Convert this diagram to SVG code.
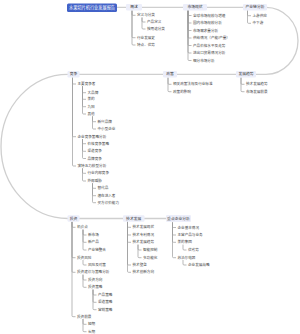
<svg xmlns="http://www.w3.org/2000/svg" width="300" height="334" viewBox="0 0 300 334">
<style>
.main{fill:none;stroke:#cfcfcf;stroke-width:1.3}
.br{fill:none;stroke:#9c9c9c;stroke-width:0.7}
.nb{fill:#eceefa;stroke:none}
.nt{font-family:'Liberation Sans','Noto Sans CJK SC',sans-serif;font-size:3.8px;fill:#333;text-anchor:middle;dominant-baseline:central}
.t{font-family:'Liberation Sans','Noto Sans CJK SC',sans-serif;font-size:3.6px;fill:#444;dominant-baseline:central}
.rt{font-family:'Liberation Sans','Noto Sans CJK SC',sans-serif;font-size:4.2px;fill:#fff;text-anchor:middle;dominant-baseline:central}
</style>
<rect width="300" height="334" fill="#fff"/>
<g id="connectors">
<path class="main" d="M117 7.3 H266 A32 33.5 0 0 1 266 74.3 H68 A67 72.1 0 0 0 68 218.5 H166"/>
<path class="br" d="M132 10.4 V14.3 Q132 15.3 133 15.3 H135.5 M132 10.4 V36.7 Q132 37.7 133 37.7 H135.5 M132 10.4 V44 Q132 45 133 45 H135.5"/>
<path class="br" d="M142 17.5 V21 Q142 22 143 22 H145.5 M142 17.5 V28 Q142 29 143 29 H145.5"/>
<path class="br" d="M188 10.4 V14.5 Q188 15.5 189 15.5 H191.5 M188 10.4 V22 Q188 23 189 23 H191.5 M188 10.4 V29.5 Q188 30.5 189 30.5 H191.5 M188 10.4 V37 Q188 38 189 38 H191.5 M188 10.4 V44.5 Q188 45.5 189 45.5 H191.5 M188 10.4 V52 Q188 53 189 53 H191.5 M188 10.4 V59.5 Q188 60.5 189 60.5 H191.5"/>
<path class="br" d="M247.5 10.4 V14.7 Q247.5 15.7 248.5 15.7 H251 M247.5 10.4 V22.3 Q247.5 23.3 248.5 23.3 H251"/>
<path class="br" d="M241 77.5 V83.3 Q241 84.3 242 84.3 H244.5 M241 77.5 V90.7 Q241 91.7 242 91.7 H244.5"/>
<path class="br" d="M168 77.5 V83.3 Q168 84.3 169 84.3 H171.5 M168 77.5 V90.7 Q168 91.7 169 91.7 H171.5"/>
<path class="br" d="M72.5 77.5 V83 Q72.5 84 73.5 84 H76 M72.5 77.5 V135.7 Q72.5 136.7 73.5 136.7 H76 M72.5 77.5 V165 Q72.5 166 73.5 166 H76"/>
<path class="br" d="M82.5 86.3 V91.7 Q82.5 92.7 83.5 92.7 H86 M82.5 86.3 V98.3 Q82.5 99.3 83.5 99.3 H86 M82.5 86.3 V105.7 Q82.5 106.7 83.5 106.7 H86 M82.5 86.3 V113 Q82.5 114 83.5 114 H86"/>
<path class="br" d="M92.5 116.3 V120.7 Q92.5 121.7 93.5 121.7 H96 M92.5 116.3 V128 Q92.5 129 93.5 129 H96"/>
<path class="br" d="M82.5 139 V142.7 Q82.5 143.7 83.5 143.7 H86 M82.5 139 V150.3 Q82.5 151.3 83.5 151.3 H86 M82.5 139 V157.5 Q82.5 158.5 83.5 158.5 H86"/>
<path class="br" d="M82.5 168.3 V172.3 Q82.5 173.3 83.5 173.3 H86 M82.5 168.3 V180 Q82.5 181 83.5 181 H86"/>
<path class="br" d="M92.5 183.3 V187.3 Q92.5 188.3 93.5 188.3 H96 M92.5 183.3 V194.7 Q92.5 195.7 93.5 195.7 H96 M92.5 183.3 V201.7 Q92.5 202.7 93.5 202.7 H96"/>
<path class="br" d="M72 221.7 V226.3 Q72 227.3 73 227.3 H75.5 M72 221.7 V256.7 Q72 257.7 73 257.7 H75.5 M72 221.7 V271.3 Q72 272.3 73 272.3 H75.5 M72 221.7 V315.7 Q72 316.7 73 316.7 H75.5"/>
<path class="br" d="M83 229.6 V234 Q83 235 84 235 H86.5 M83 229.6 V241.3 Q83 242.3 84 242.3 H86.5 M83 229.6 V249 Q83 250 84 250 H86.5"/>
<path class="br" d="M83 260 V264 Q83 265 84 265 H86.5"/>
<path class="br" d="M83 274.6 V279 Q83 280 84 280 H86.5 M83 274.6 V286.3 Q83 287.3 84 287.3 H86.5"/>
<path class="br" d="M93 289.6 V294 Q93 295 94 295 H96.5 M93 289.6 V301.3 Q93 302.3 94 302.3 H96.5 M93 289.6 V308.7 Q93 309.7 94 309.7 H96.5"/>
<path class="br" d="M83 319 V323.3 Q83 324.3 84 324.3 H86.5 M83 319 V330.7 Q83 331.7 84 331.7 H86.5"/>
<path class="br" d="M127.5 221.7 V226.3 Q127.5 227.3 128.5 227.3 H131 M127.5 221.7 V234 Q127.5 235 128.5 235 H131 M127.5 221.7 V241.3 Q127.5 242.3 128.5 242.3 H131 M127.5 221.7 V264 Q127.5 265 128.5 265 H131 M127.5 221.7 V271.3 Q127.5 272.3 128.5 272.3 H131"/>
<path class="br" d="M138 244.6 V249 Q138 250 139 250 H141.5 M138 244.6 V256.7 Q138 257.7 139 257.7 H141.5"/>
<path class="br" d="M172.5 222.5 V226.5 Q172.5 227.5 173.5 227.5 H176 M172.5 222.5 V234 Q172.5 235 173.5 235 H176 M172.5 222.5 V241.3 Q172.5 242.3 173.5 242.3 H176 M172.5 222.5 V256.7 Q172.5 257.7 173.5 257.7 H176"/>
<path class="br" d="M183 244.6 V249 Q183 250 184 250 H186.5 M183 260 V264 Q183 265 184 265 H186.5"/>
</g>
<g id="root"><rect x="67" y="3.4" width="50" height="8.6" rx="1.5" fill="#4262c8"/><text class="rt" x="92" y="7.7">水果切片机行业发展报告</text></g>
<g id="n1"><rect class="nb" x="126" y="4.1" width="16" height="6.4" rx="1.2"/><text class="nt" x="134" y="7.3">概述</text>
<text class="t" x="137" y="15.3">定义与分类</text><text class="t" x="147" y="22">产品定义</text><text class="t" x="147" y="29">按用途分类</text><text class="t" x="137" y="37.7">行业发展史</text><text class="t" x="137" y="45">特点、优势</text></g>
<g id="n2"><rect class="nb" x="183" y="4.1" width="24" height="6.4" rx="1.2"/><text class="nt" x="195" y="7.3">市场现状</text>
<text class="t" x="193" y="15.5">全球市场规模与增速</text><text class="t" x="193" y="23">国内市场规模分析</text><text class="t" x="193" y="30.5">市场需求量分析</text><text class="t" x="193" y="38">供给情况（产能/产量）</text><text class="t" x="193" y="45.5">产品价格水平及走势</text><text class="t" x="193" y="53">进出口贸易情况分析</text><text class="t" x="193" y="60.5">细分市场分析</text></g>
<g id="n3"><rect class="nb" x="243" y="4.1" width="24" height="6.4" rx="1.2"/><text class="nt" x="255" y="7.3">产业链分析</text>
<text class="t" x="252.5" y="15.7">上游供应</text><text class="t" x="252.5" y="23.3">中下游</text></g>
<g id="n6"><rect class="nb" x="236" y="71.1" width="20" height="6.4" rx="1.2"/><text class="nt" x="246" y="74.3">发展趋势</text>
<text class="t" x="246" y="84.3">技术发展趋势</text><text class="t" x="246" y="91.7">市场发展前景</text></g>
<g id="n5"><rect class="nb" x="163" y="71.1" width="14" height="6.4" rx="1.2"/><text class="nt" x="170" y="74.3">政策</text>
<text class="t" x="173" y="84.3">相关政策法规及行业标准</text><text class="t" x="173" y="91.7">政策的影响</text></g>
<g id="n4"><rect class="nb" x="67.5" y="71.1" width="12" height="6.4" rx="1.2"/><text class="nt" x="73.5" y="74.3">竞争</text>
<text class="t" x="77.5" y="84">主要竞争者</text><text class="t" x="87.5" y="92.7">大品牌</text><text class="t" x="87.5" y="99.3">美的</text><text class="t" x="87.5" y="106.7">九阳</text><text class="t" x="87.5" y="114">其他</text><text class="t" x="97.5" y="121.7">新兴品牌</text><text class="t" x="97.5" y="129">中小型企业</text>
<text class="t" x="77.5" y="136.7">企业竞争策略分析</text><text class="t" x="87.5" y="143.7">价格竞争策略</text><text class="t" x="87.5" y="151.3">渠道竞争</text><text class="t" x="87.5" y="158.5">品牌竞争</text>
<text class="t" x="77.5" y="166">波特五力模型分析</text><text class="t" x="87.5" y="173.3">行业内部竞争</text><text class="t" x="87.5" y="181">外部威胁</text><text class="t" x="97.5" y="188.3">替代品</text><text class="t" x="97.5" y="195.7">潜在进入者</text><text class="t" x="97.5" y="202.7">买方议价能力</text></g>
<g id="n7"><rect class="nb" x="67.5" y="215.3" width="12" height="6.4" rx="1.2"/><text class="nt" x="73.5" y="218.5">投资</text>
<text class="t" x="77" y="227.3">机会点</text><text class="t" x="88" y="235">新市场</text><text class="t" x="88" y="242.3">新产品</text><text class="t" x="88" y="250">产业链整合</text>
<text class="t" x="77" y="257.7">投资风险</text><text class="t" x="88" y="265">风险及对策</text>
<text class="t" x="77" y="272.3">投资建议与策略分析</text><text class="t" x="88" y="280">投资方向</text><text class="t" x="88" y="287.3">投资策略</text><text class="t" x="98" y="295">产品策略</text><text class="t" x="98" y="302.3">渠道策略</text><text class="t" x="98" y="309.7">营销策略</text>
<text class="t" x="77" y="316.7">投资前景</text><text class="t" x="88" y="324.3">短期</text><text class="t" x="88" y="331.7">长期</text></g>
<g id="n8"><rect class="nb" x="123" y="215.3" width="21.5" height="6.4" rx="1.2"/><text class="nt" x="133.7" y="218.5">技术发展</text>
<text class="t" x="132.5" y="227.3">技术发展现状</text><text class="t" x="132.5" y="235">技术专利情况</text><text class="t" x="132.5" y="242.3">技术发展趋势</text><text class="t" x="143" y="250">智能控制</text><text class="t" x="143" y="257.7">多功能化</text><text class="t" x="132.5" y="265">技术壁垒</text><text class="t" x="132.5" y="272.3">技术创新方向</text></g>
<g id="n9"><rect class="nb" x="166" y="215" width="25" height="7" rx="1.2"/><text class="nt" x="178.5" y="218.5">重点企业分析</text>
<text class="t" x="177.5" y="227.5">企业基本情况</text><text class="t" x="177.5" y="235">主营产品与业务</text><text class="t" x="177.5" y="242.3">美的集团</text><text class="t" x="188" y="250">优劣势</text><text class="t" x="177.5" y="257.7">苏泊尔电器</text><text class="t" x="188" y="265">企业发展战略</text></g>
</svg>
